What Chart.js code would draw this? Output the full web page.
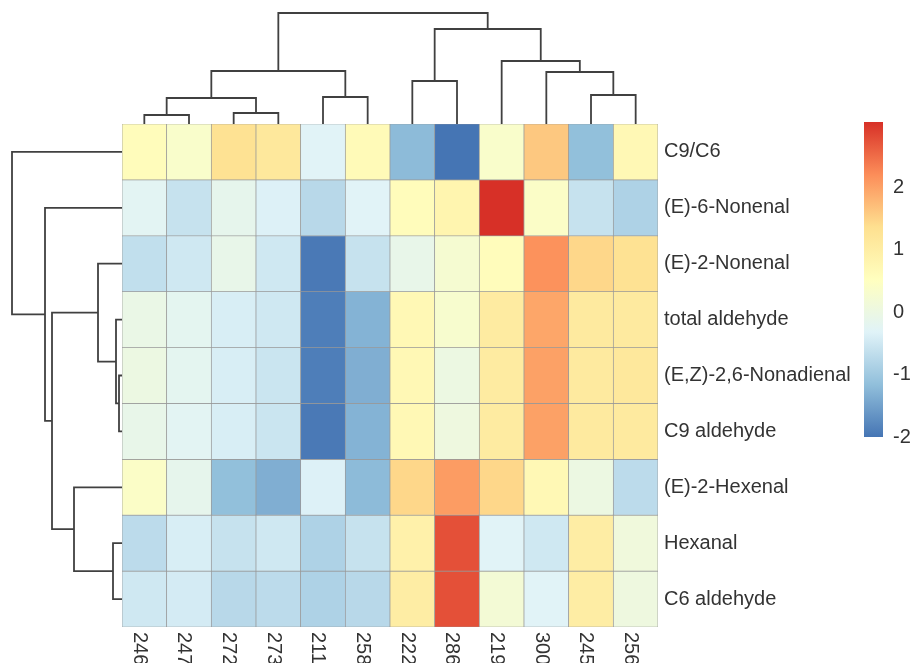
<!DOCTYPE html>
<html>
<head>
<meta charset="utf-8">
<script src="https://cdn.jsdelivr.net/npm/chart.js@4.4.1/dist/chart.umd.min.js"></script>
<style>
  body { margin: 0; background: #fff; }
  #wrap { position: relative; width: 917px; height: 663px; background: #fff; }
  canvas { position: absolute; }
</style>
</head>
<body>
<div id="wrap">
  <canvas id="heat" width="917" height="663" style="left:0;top:0"></canvas>
  <canvas id="topTree" width="536" height="124" style="left:122px;top:0"></canvas>
  <canvas id="leftTree" width="122" height="503" style="left:0;top:124px"></canvas>
  <canvas id="legendBar" width="67" height="359" style="left:850px;top:100px"></canvas>
</div>
<script>
// column (sample) labels, in dendrogram order
const colLabels = ['246', '247', '272', '273', '211', '258', '222', '286', '219', '300', '245', '256'];
// row (compound) labels, in dendrogram order
const rowLabels = ['C9/C6', '(E)-6-Nonenal', '(E)-2-Nonenal', 'total aldehyde', '(E,Z)-2,6-Nonadienal',
  'C9 aldehyde', '(E)-2-Hexenal', 'Hexanal', 'C6 aldehyde'];

// scaled values per row
const c9c6          = [0.6, 0.35, 1.3, 1.15, -0.3, 0.65, -1.2, -2.0, 0.35, 1.6, -1.15, 0.7];
const e6Nonenal     = [-0.25, -0.6, -0.15, -0.35, -0.75, -0.3, 0.6, 0.8, 3.04, 0.4, -0.6, -0.85];
const e2Nonenal     = [-0.65, -0.5, -0.1, -0.5, -1.95, -0.6, -0.1, 0.25, 0.6, 2.15, 1.45, 1.3];
const totalAldehyde = [-0.05, -0.2, -0.4, -0.5, -1.9, -1.3, 0.7, 0.3, 1.05, 1.95, 1.1, 1.1];
const ezNonadienal  = [0.0, -0.2, -0.4, -0.55, -1.9, -1.35, 0.7, 0.0, 1.05, 2.0, 1.1, 1.15];
const c9Aldehyde    = [-0.1, -0.25, -0.4, -0.55, -1.95, -1.3, 0.7, 0.05, 1.05, 2.0, 1.1, 1.1];
const e2Hexenal     = [0.4, -0.15, -1.15, -1.35, -0.35, -1.2, 1.45, 2.05, 1.45, 0.7, 0.0, -0.7];
const hexanal       = [-0.7, -0.4, -0.6, -0.5, -0.85, -0.6, 0.9, 2.75, -0.3, -0.5, 1.0, 0.1];
const c6Aldehyde    = [-0.5, -0.45, -0.75, -0.7, -0.85, -0.75, 1.0, 2.75, 0.2, -0.3, 1.0, 0.05];
const rowValues = [c9c6, e6Nonenal, e2Nonenal, totalAldehyde, ezNonadienal, c9Aldehyde, e2Hexenal, hexanal, c6Aldehyde];

// dendrograms, hclust style: negative = leaf (1-based), positive = earlier merge
const colMerge  = [[-1, -2], [-3, -4], [1, 2], [-5, -6], [3, 4], [-7, -8], [-11, -12], [-10, 7], [-9, 8], [6, 9], [5, 10]];
const colHeight = [0.9, 1.1, 2.6, 2.7, 5.3, 4.3, 2.9, 5.2, 6.3, 9.5, 11.1];
const rowMerge  = [[-5, -6], [-4, 1], [-3, 2], [-8, -9], [-7, 4], [3, 5], [-2, 6], [-1, 7]];
const rowHeight = [0.3, 0.6, 2.4, 0.9, 4.8, 7.0, 7.7, 11.0];

// legend ticks and palette (rev RdYlBu, 7 colours)
const legendTicks = [-2, -1, 0, 1, 2];
const palette = ['#4575B4', '#91BFDB', '#E0F3F8', '#FFFFBF', '#FEE090', '#FC8D59', '#D73027'];

const FONT = { family: '"Liberation Sans", Arial, sans-serif', size: 20 };
const TEXT = '#333333';
const LINE = '#404040';

const allValues = rowValues.flat();
const vMin = Math.min(...allValues);
const vMax = Math.max(...allValues);

function hexToRgb(h) {
  return [parseInt(h.slice(1, 3), 16), parseInt(h.slice(3, 5), 16), parseInt(h.slice(5, 7), 16)];
}
const paletteRgb = palette.map(hexToRgb);

function colorFor(v) {
  let t = (v - vMin) / (vMax - vMin) * (palette.length - 1);
  t = Math.max(0, Math.min(palette.length - 1, t));
  const i = Math.min(palette.length - 2, Math.floor(t));
  const f = t - i;
  const a = paletteRgb[i], b = paletteRgb[i + 1];
  const c = a.map((x, k) => Math.round(x + (b[k] - x) * f));
  return `rgb(${c[0]},${c[1]},${c[2]})`;
}

// turn merges into U-shaped segments [[pos,h],...]
function treeSegments(merge, heights) {
  const pos = [], hts = [];
  const nodePos = id => id < 0 ? (-id - 1) + 0.5 : pos[id - 1];
  const nodeH = id => id < 0 ? 0 : hts[id - 1];
  return merge.map(([a, b], k) => {
    const h = heights[k];
    const seg = [[nodePos(a), nodeH(a)], [nodePos(a), h], [nodePos(b), h], [nodePos(b), nodeH(b)]];
    pos.push((nodePos(a) + nodePos(b)) / 2);
    hts.push(h);
    return seg;
  });
}

function lineDataset(points) {
  return {
    data: points,
    showLine: true,
    pointRadius: 0,
    borderColor: LINE,
    borderWidth: 1.8,
    tension: 0,
    clip: false
  };
}

const baseOptions = {
  responsive: false,
  animation: false,
  events: [],
  plugins: { legend: { display: false }, tooltip: { enabled: false } }
};

// heatmap
const colLabelPlugin = {
  id: 'colLabels',
  afterDraw(chart) {
    const { ctx, chartArea, scales } = chart;
    ctx.save();
    ctx.font = `${FONT.size}px ${FONT.family}`;
    ctx.fillStyle = TEXT;
    ctx.textAlign = 'left';
    ctx.textBaseline = 'middle';
    colLabels.forEach((lab, i) => {
      ctx.save();
      ctx.translate(scales.x.getPixelForValue(i) - 5, chartArea.bottom + 5);
      ctx.rotate(Math.PI / 2);
      ctx.fillText(lab, 0, 0);
      ctx.restore();
    });
    ctx.restore();
  }
};

new Chart(document.getElementById('heat'), {
  type: 'bar',
  data: {
    labels: colLabels,
    datasets: rowValues.map((vals, r) => ({
      label: rowLabels[r],
      data: vals.map(() => [r, r + 1]),
      backgroundColor: vals.map(colorFor),
      borderColor: '#999999',
      borderWidth: 0.7,
      borderSkipped: false,
      barPercentage: 1,
      categoryPercentage: 1,
      grouped: false
    }))
  },
  options: {
    ...baseOptions,
    layout: { padding: { left: 122, top: 124, right: 0, bottom: 36 } },
    scales: {
      x: { display: false },
      y: { type: 'linear', min: 0, max: rowLabels.length, reverse: true, display: false },
      rowAxis: {
        axis: 'y',
        type: 'category',
        labels: rowLabels,
        position: 'right',
        offset: true,
        grid: { display: false, drawTicks: false },
        border: { display: false },
        ticks: { padding: 6, font: FONT, color: TEXT, autoSkip: false },
        afterFit: s => { s.width = 259; }
      }
    }
  },
  plugins: [colLabelPlugin]
});

// top dendrogram (columns)
new Chart(document.getElementById('topTree'), {
  type: 'scatter',
  data: {
    datasets: treeSegments(colMerge, colHeight).map(seg => lineDataset(seg.map(([p, h]) => ({ x: p, y: h }))))
  },
  options: {
    ...baseOptions,
    scales: {
      x: { type: 'linear', min: 0, max: colLabels.length, display: false },
      y: { type: 'linear', min: 0, max: 12.4, display: false }
    }
  }
});

// left dendrogram (rows)
new Chart(document.getElementById('leftTree'), {
  type: 'scatter',
  data: {
    datasets: treeSegments(rowMerge, rowHeight).map(seg => lineDataset(seg.map(([p, h]) => ({ x: h, y: p }))))
  },
  options: {
    ...baseOptions,
    scales: {
      x: { type: 'linear', min: 0, max: 12.2, reverse: true, display: false },
      y: { type: 'linear', min: 0, max: rowLabels.length, reverse: true, display: false }
    }
  }
});

// colour legend
new Chart(document.getElementById('legendBar'), {
  type: 'bar',
  data: {
    labels: [''],
    datasets: [{
      data: [[vMin, vMax]],
      backgroundColor: ctx => {
        const chart = ctx.chart;
        if (!chart.chartArea) return 'transparent';
        const y = chart.scales.y;
        const g = chart.ctx.createLinearGradient(0, y.getPixelForValue(vMin), 0, y.getPixelForValue(vMax));
        palette.forEach((c, i) => g.addColorStop(i / (palette.length - 1), c));
        return g;
      },
      borderWidth: 0,
      barPercentage: 1,
      categoryPercentage: 1
    }]
  },
  options: {
    ...baseOptions,
    layout: { padding: { left: 14, top: 2, bottom: 4, right: 0 } },
    scales: {
      x: { display: false },
      y: {
        type: 'linear',
        min: vMin,
        max: vMax,
        position: 'right',
        grid: { display: false, drawTicks: false },
        border: { display: false },
        ticks: { padding: 10, font: FONT, color: TEXT },
        afterBuildTicks: s => { s.ticks = legendTicks.map(v => ({ value: v })); },
        afterFit: s => { s.width = 34; }
      }
    }
  }
});
</script>
</body>
</html>
